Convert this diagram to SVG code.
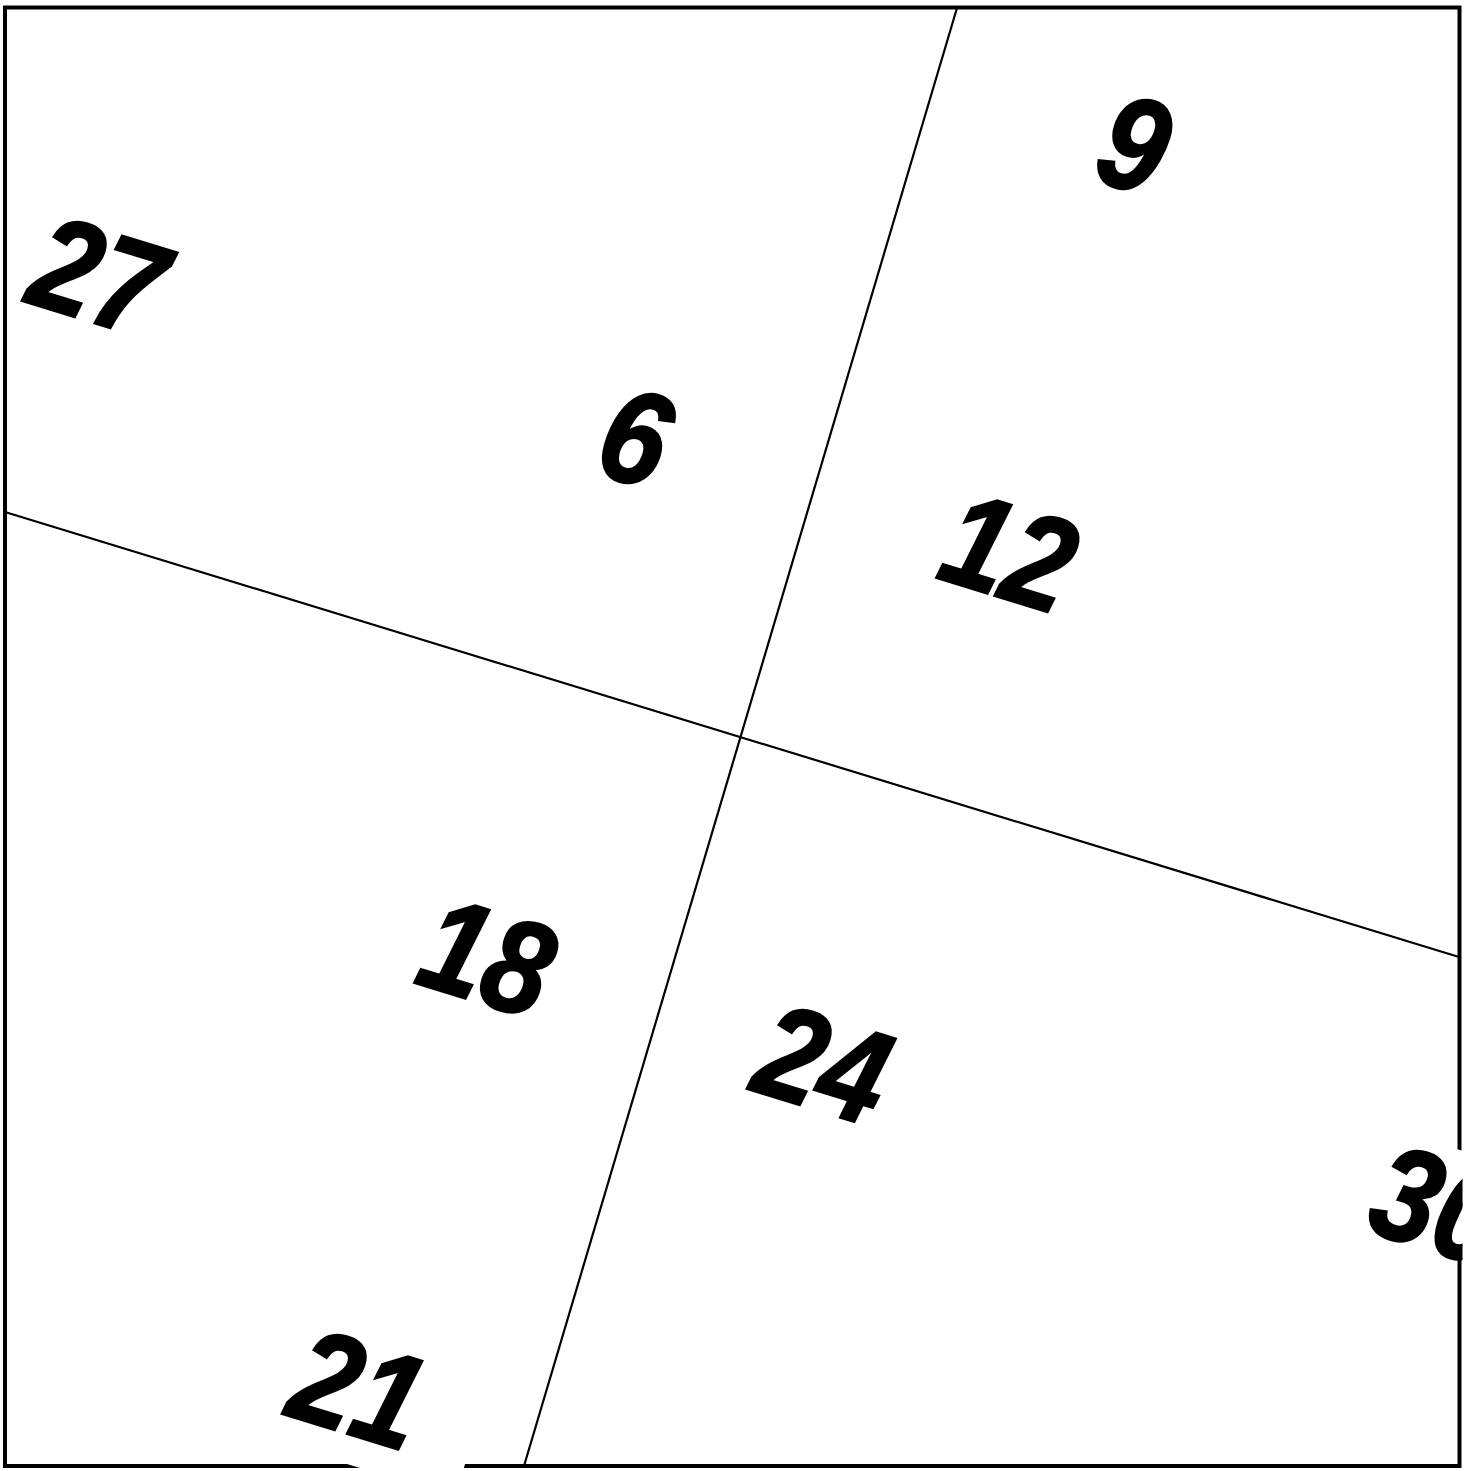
<svg xmlns="http://www.w3.org/2000/svg" width="1473" height="1471" viewBox="0 0 1473 1471">
<style>
.lbl{font-family:"Liberation Sans",Arial,sans-serif;font-weight:bold;font-style:italic;font-size:116px;fill:#000;stroke:#000;stroke-width:2;text-anchor:middle}
.ln{stroke:#000;stroke-width:2.2;fill:none}
</style>
<defs>
<clipPath id="c"><rect x="0" y="0" width="1462.5" height="1471"/></clipPath>
</defs>
<rect width="1473" height="1471" fill="#fff"/>
<g id="connectors">
<line class="ln" x1="957" y1="8" x2="524" y2="1466"/>
<line class="ln" x1="5" y1="512" x2="1459" y2="957"/>
</g>
<rect id="frame" x="5" y="7.5" width="1454.5" height="1458.5" fill="none" stroke="#000" stroke-width="4"/>
<g id="knockouts" fill="#fff">
<rect transform="translate(358,1390) rotate(17)" x="-126" y="-64" width="250" height="138"/>
<rect transform="translate(1438,1203) rotate(17)" x="-126" y="-57" width="252" height="97"/>
</g>
<g clip-path="url(#c)">
<g id="n27" transform="translate(99,274) rotate(17) scale(1,1.15)"><text class="lbl" x="0" y="42">27</text></g>
<g id="n6" transform="translate(636,435) rotate(17) scale(1,1.15)"><text class="lbl" x="0" y="42">6</text></g>
<g id="n9" transform="translate(1135,142) rotate(17) scale(1,1.15)"><text class="lbl" x="0" y="42">9</text></g>
<g id="n12" transform="translate(1010,550) rotate(17) scale(1,1.15)"><text class="lbl" x="0" y="42">12</text></g>
<g id="n18" transform="translate(488,955) rotate(17) scale(1,1.15)"><text class="lbl" x="0" y="42">18</text></g>
<g id="n24" transform="translate(824,1062) rotate(17) scale(1,1.15)"><text class="lbl" x="0" y="42">24</text></g>
<g id="n21" transform="translate(359,1387) rotate(17) scale(1,1.15)"><text class="lbl" x="0" y="42">21</text></g>
<g id="n30" transform="translate(1439,1203) rotate(17) scale(1,1.15)"><text class="lbl" x="0" y="42">30</text></g>
</g>
</svg>
